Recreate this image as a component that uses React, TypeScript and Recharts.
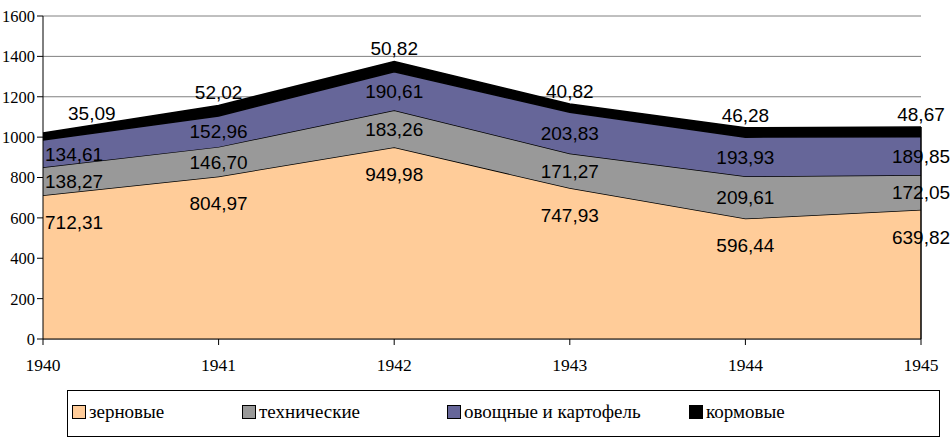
import React from 'react';
import {
  AreaChart,
  Area,
  CartesianGrid,
  XAxis,
  YAxis,
  ReferenceDot,
  ReferenceLine
} from 'recharts';

const years = ['1940', '1941', '1942', '1943', '1944', '1945'];
const grain = [712.31, 804.97, 949.98, 747.93, 596.44, 639.82];
const technical = [138.27, 146.7, 183.26, 171.27, 209.61, 172.05];
const vegetables = [134.61, 152.96, 190.61, 203.83, 193.93, 189.85];
const fodder = [35.09, 52.02, 50.82, 40.82, 46.28, 48.67];
const yTicks = [0, 200, 400, 600, 800, 1000, 1200, 1400, 1600];

const seriesNames = ['зерновые', 'технические', 'овощные и картофель', 'кормовые'];
const seriesColors = ['#FFCC99', '#999999', '#666699', '#000000'];

const data = years.map((year, i) => ({
  year,
  grain: grain[i],
  technical: technical[i],
  vegetables: vegetables[i],
  fodder: fodder[i]
}));

const fmt = (v: number) => v.toFixed(2).replace('.', ',');

// label anchor per point, in data units, plus a pixel nudge
const labelSpots = years.flatMap((year, i) => {
  const g = grain[i];
  const t = g + technical[i];
  const v = t + vegetables[i];
  const f = v + fodder[i];
  return [
    { key: `g${i}`, kind: 'g', year, i, y: g, dy: 27, text: fmt(grain[i]) },
    { key: `t${i}`, kind: 't', year, i, y: (g + t) / 2, dy: 0, text: fmt(technical[i]) },
    { key: `v${i}`, kind: 'v', year, i, y: (t + v) / 2, dy: 0, text: fmt(vegetables[i]) },
    { key: `f${i}`, kind: 'f', year, i, y: f, dy: i === 0 ? -20 : -13, text: fmt(fodder[i]) }
  ];
});

const legendLeft = [4, 174, 379, 621];

const serif = '"Liberation Serif", "Times New Roman", serif';
const sans = '"Liberation Sans", Arial, sans-serif';

const XTick = (p: any) => (
  <text x={p.x} y={p.y} dy="0.71em" textAnchor="middle" style={{ fontFamily: serif, fontSize: 17.5 }} fill="#000">
    {p.payload.value}
  </text>
);

const YTick = (p: any) => (
  <text x={p.x} y={p.y} dy="0.36em" textAnchor="end" style={{ fontFamily: serif, fontSize: 16.5 }} fill="#000">
    {p.payload.value}
  </text>
);

export default function App() {
  const last = years.length - 1;
  const lastTotal = grain[last] + technical[last] + vegetables[last] + fodder[last];
  return (
    <div style={{ position: 'absolute', left: 0, top: 0, width: 951, height: 439, background: '#fff' }}>
      <AreaChart
        width={951}
        height={439}
        data={data}
        margin={{ top: 16, right: 30, left: 0, bottom: 70 }}
      >
        <CartesianGrid vertical={false} stroke="#808080" strokeWidth={1} />
        <XAxis
          dataKey="year"
          height={30}
          axisLine={{ stroke: '#000' }}
          tickLine={{ stroke: '#000' }}
          tickSize={6}
          tickMargin={14}
          tick={<XTick />}
        />
        <YAxis
          width={43}
          domain={[0, 1600]}
          ticks={yTicks}
          interval={0}
          axisLine={{ stroke: '#000' }}
          tickLine={{ stroke: '#000' }}
          tickSize={6}
          tickMargin={2}
          tick={<YTick />}
        />
        <Area type="linear" dataKey="grain" stackId="1" stroke="#000" strokeWidth={1.5} fill={seriesColors[0]} fillOpacity={1} isAnimationActive={false} dot={false} activeDot={false} />
        <Area type="linear" dataKey="technical" stackId="1" stroke="#000" strokeWidth={1.5} fill={seriesColors[1]} fillOpacity={1} isAnimationActive={false} dot={false} activeDot={false} />
        <Area type="linear" dataKey="vegetables" stackId="1" stroke="#000" strokeWidth={1.5} fill={seriesColors[2]} fillOpacity={1} isAnimationActive={false} dot={false} activeDot={false} />
        <Area type="linear" dataKey="fodder" stackId="1" stroke="#000" strokeWidth={1.5} fill={seriesColors[3]} fillOpacity={1} isAnimationActive={false} dot={false} activeDot={false} />
        <ReferenceLine
          segment={[{ x: years[last], y: 0 }, { x: years[last], y: lastTotal }]}
          stroke="#000"
          strokeWidth={1.5}
          ifOverflow="visible"
        />
        {labelSpots.map((s) => (
          <ReferenceDot
            key={s.key}
            x={s.year}
            y={s.y}
            r={0}
            ifOverflow="visible"
            shape={(p: any) => (
              <text
                x={s.i === 0 ? p.cx + (s.kind === 'f' ? 25 : 2) : p.cx}
                y={p.cy + s.dy}
                dy="0.36em"
                textAnchor={s.i === 0 ? 'start' : 'middle'}
                style={{ fontFamily: sans, fontSize: 19 }}
                fill="#000"
              >
                {s.text}
              </text>
            )}
          />
        ))}
      </AreaChart>
      <div
        style={{
          position: 'absolute',
          left: 67,
          top: 390,
          width: 873,
          height: 47,
          border: '1px solid #000',
          boxSizing: 'border-box',
          fontFamily: serif,
          fontSize: 19
        }}
      >
        {seriesNames.map((name, i) => (
          <div
            key={name}
            style={{
              position: 'absolute',
              left: legendLeft[i],
              top: 10,
              display: 'flex',
              alignItems: 'center',
              whiteSpace: 'nowrap'
            }}
          >
            <span
              style={{
                display: 'inline-block',
                width: 12,
                height: 12,
                background: seriesColors[i],
                border: '1px solid #000',
                marginRight: 3
              }}
            />
            <span>{name}</span>
          </div>
        ))}
      </div>
    </div>
  );
}
